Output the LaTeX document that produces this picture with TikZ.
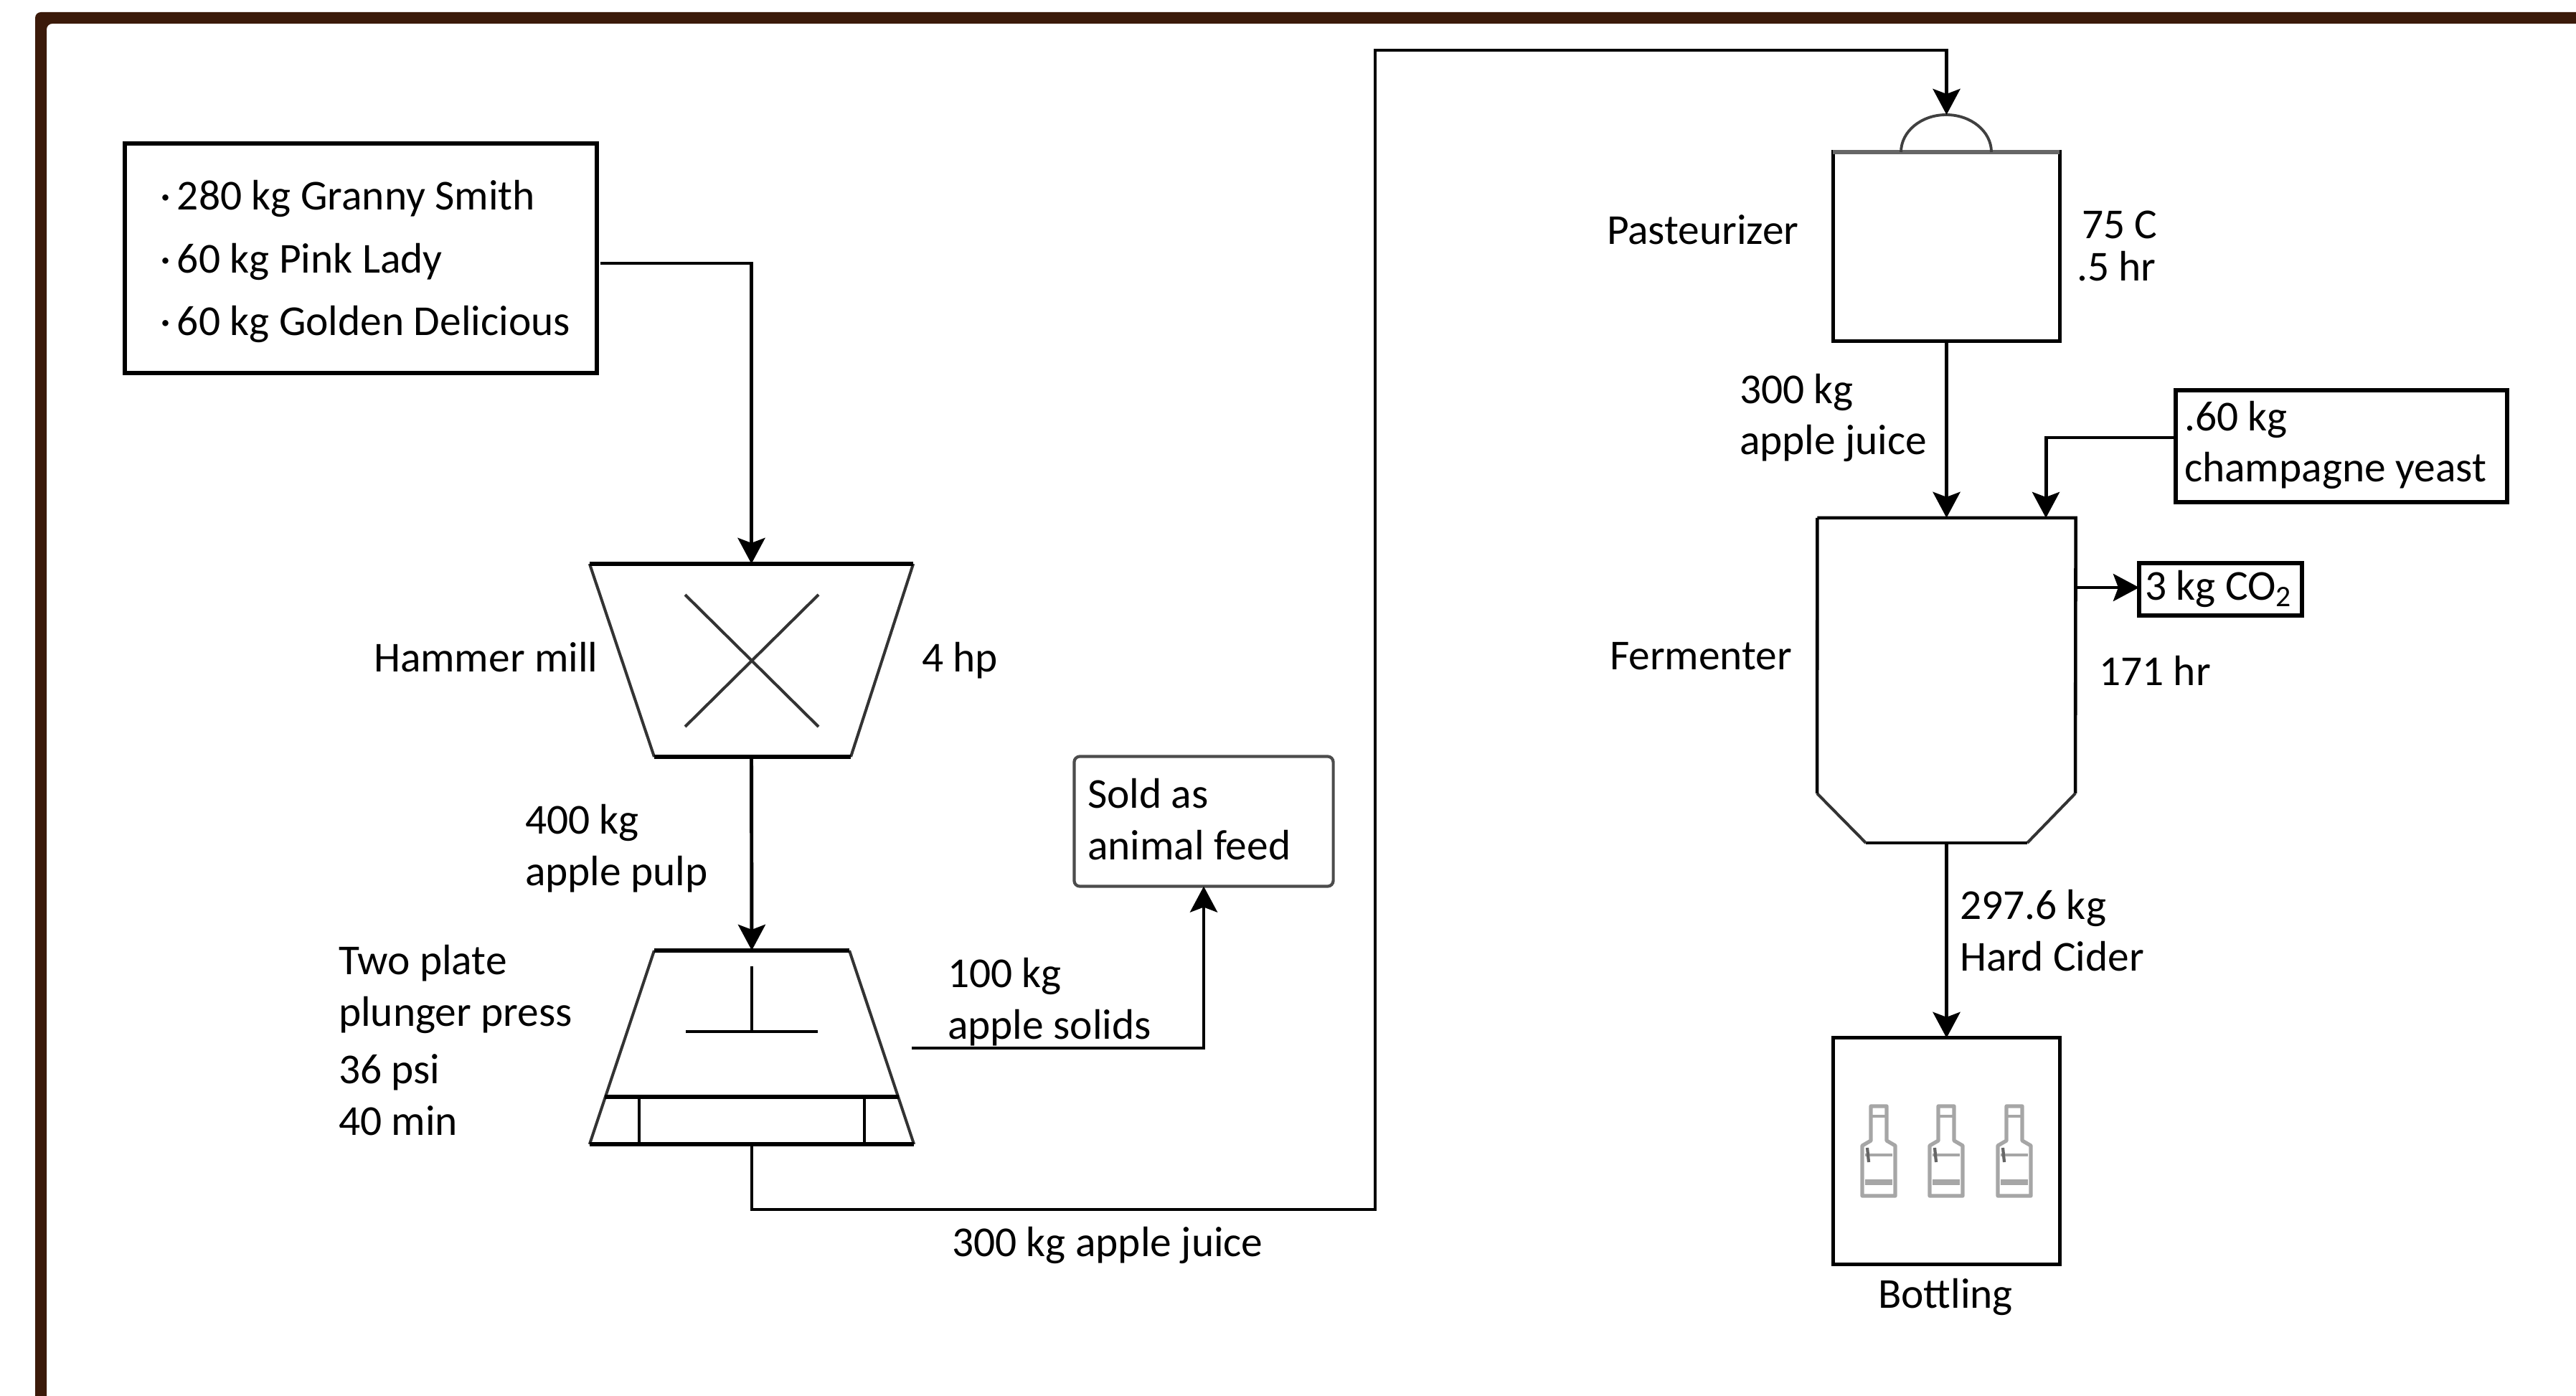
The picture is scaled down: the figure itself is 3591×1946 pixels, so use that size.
\documentclass[tikz,border=0pt]{standalone}
\usepackage{fontspec}
\setmainfont{Carlito}
\usetikzlibrary{arrows.meta}
\definecolor{framebrown}{HTML}{3B1A0A}
\definecolor{bottlegray}{HTML}{A6A6A6}
\tikzset{
  px/.style={x=0.01cm,y=-0.01cm},
  lbl/.style={anchor=base west,inner sep=0pt,outer sep=0pt,align=left,font=\fontsize{16.9}{20.4}\selectfont},
  solid box/.style={draw=black,line width=1.6pt,fill=white,inner sep=0pt,outer sep=0pt},
  anchorbox/.style={inner sep=0pt,outer sep=0pt},
  shape line/.style={draw=black,line width=1.5pt},
  slant line/.style={draw=black!80,line width=1.15pt},
  flow/.style={draw=black,line width=1.4pt,-{Stealth[length=0.36cm,width=0.38cm,inset=0.07cm]}},
  pics/bottleicon/.style={code={
    \draw[bottlegray,line width=1.5pt,line join=round]
      (-11,0) -- (11,0) -- (11,48) -- (23,55) -- (23,125) -- (-23,125) -- (-23,55) -- (-11,48) -- cycle;
    \draw[bottlegray,line width=1.2pt] (-11,14) -- (11,14);
    \draw[bottlegray,line width=1.2pt] (-19,68) -- (19,68);
    \draw[bottlegray,line width=2.4pt] (-19,106) -- (19,106);
    \draw[black!60,line width=1.2pt] (-16,58) -- (-14,78);
  }},
}
\begin{document}
\begin{tikzpicture}[px]
\useasboundingbox (0,0) rectangle (3591,1946);
\fill[white] (0,0) rectangle (3591,1946);
\fill[framebrown,rounded corners=0.08cm] (49,1980) -- (49,17) -- (3640,17) -- (3640,33) -- (65,33) -- (65,1980) -- cycle;

% boxes
\node[solid box,minimum width=6.57cm,minimum height=3.20cm] (source) at (503,360) {};
\node[solid box,draw=black!70,line width=1.2pt,rounded corners=0.08cm,minimum width=3.61cm,minimum height=1.81cm] (feed) at (1678,1145) {};
\node[solid box,line width=1.4pt,minimum width=3.16cm,minimum height=2.63cm] (pasteur) at (2713.5,343.5) {};
\node[solid box,minimum width=4.62cm,minimum height=1.56cm] (yeast) at (3264,622) {};
\node[solid box,minimum width=2.27cm,minimum height=0.73cm] (co2) at (3095.5,821.5) {};
\node[solid box,line width=1.4pt,minimum width=3.16cm,minimum height=3.15cm] (bottling) at (2713.5,1604.5) {};

% hammer mill
\node[anchorbox,minimum width=4.51cm,minimum height=2.69cm] (hammer) at (1047.5,920.5) {};
\draw[slant line] (hammer.north west) -- (912,1055);
\draw[slant line] (hammer.north east) -- (1186,1055);
\draw[shape line] (hammer.north west) -- (hammer.north east);
\draw[shape line] (912,1055) -- (1186,1055);
\draw[slant line] (955,829) -- (1141,1013);
\draw[slant line] (1141,829) -- (955,1013);

% press
\node[anchorbox,minimum width=4.52cm,minimum height=2.70cm] (press) at (1048,1460) {};
\draw[slant line] (912,1325) -- (press.south west);
\draw[slant line] (1184,1325) -- (press.south east);
\draw[shape line] (912,1325) -- (1184,1325);
\draw[shape line] (press.south west) -- (press.south east);
\draw[shape line] (843,1529) -- (1253,1529);
\draw[shape line,line width=1.3pt] (891,1529) -- (891,1595);
\draw[shape line,line width=1.3pt] (1205,1529) -- (1205,1595);
\draw[shape line,line width=1.2pt] (1048,1347) -- (1048,1438);
\draw[shape line,line width=1.3pt] (956,1438) -- (1140,1438);

% pasteurizer dome
\draw[draw=black!60,line width=1.6pt] (2555,212) -- (2871,212);
\draw[draw=black!75,line width=1.1pt] (2650,212) arc[start angle=180,end angle=360,x radius=63,y radius=52];
\coordinate (domeTop) at (2713.5,160);

% fermenter
\node[anchorbox,minimum width=3.60cm,minimum height=4.53cm] (ferm) at (2713.5,948.5) {};
\draw[shape line,line width=1.3pt,line join=miter] (ferm.north west) -- (ferm.north east) -- (2893,1106);
\draw[slant line] (2893,1106) -- (2826,1175);
\draw[shape line,line width=1.3pt] (2826,1175) -- (2601,1175);
\draw[slant line] (2601,1175) -- (2533,1106);
\draw[shape line,line width=1.3pt] (2533,1106) -- (ferm.north west);

% bottles
\foreach \bx in {2619,2713,2808} \pic at (\bx,1542) {bottleicon};

% connectors
\coordinate (srcOut) at (837,367);
\coordinate (solidsOut) at (1271,1461);
\coordinate (juiceA) at (1917,1686);
\coordinate (juiceB) at (1917,70);
\coordinate (yeastOut) at (3033,610);
\coordinate (fermIn) at (2852,722);
\coordinate (fermOut) at (2893,819);
\draw[flow] (srcOut) -| (hammer.north);
\draw[flow] (hammer.south) -- (press.north);
\draw[flow] (solidsOut) -| (feed.south);
\draw[flow] (press.south) |- (juiceA) -- (juiceB) -| (domeTop);
\draw[flow] (pasteur.south) -- (ferm.north);
\draw[flow] (yeastOut) -| (fermIn);
\draw[flow] (fermOut) -- (co2.west |- fermOut);
\draw[flow] (ferm.south) -- (bottling.north);

% labels
\node[lbl] (s1) at (223,293) {\makebox[0.24cm][l]{·}280 kg Granny Smith};
\node[lbl] (s2) at (223,381) {\makebox[0.24cm][l]{·}60 kg Pink Lady};
\node[lbl] (s3) at (223,468) {\makebox[0.24cm][l]{·}60 kg Golden Delicious};
\node[lbl] (l1) at (521,936) {Hammer mill};
\node[lbl] (l2) at (1285,936) {4 hp};
\node[lbl] (l3) at (732,1234) {400 kg\\apple pulp};
\node[lbl] (l4) at (472,1430) {Two plate\\plunger press};
\node[lbl] (l5) at (472,1582) {36 psi\\40 min};
\node[lbl] (l6) at (1321,1448) {100 kg\\apple solids};
\node[lbl] (l7) at (1516,1198) {Sold as\\animal feed};
\node[lbl] (l8) at (1327,1751) {300 kg apple juice};
\node[lbl] (l9) at (2240,341) {Pasteurizer};
\node[lbl] (l10) at (2902,333) {75 C};
\node[lbl] (l11) at (2895,392) {.5 hr};
\node[lbl] (l12) at (2425,634) {300 kg\\apple juice};
\node[lbl] (l13) at (3045,672) {.60 kg\\champagne yeast};
\node[lbl] (l14) at (2990,836) {3 kg CO\textsubscript{2}};
\node[lbl] (l15) at (2926,955) {171 hr};
\node[lbl] (l16) at (2244,933) {Fermenter};
\node[lbl] (l17) at (2732,1353) {297.6 kg\\Hard Cider};
\node[lbl,anchor=base] (l18) at (2712,1823) {Bottling};
\end{tikzpicture}
\end{document}
